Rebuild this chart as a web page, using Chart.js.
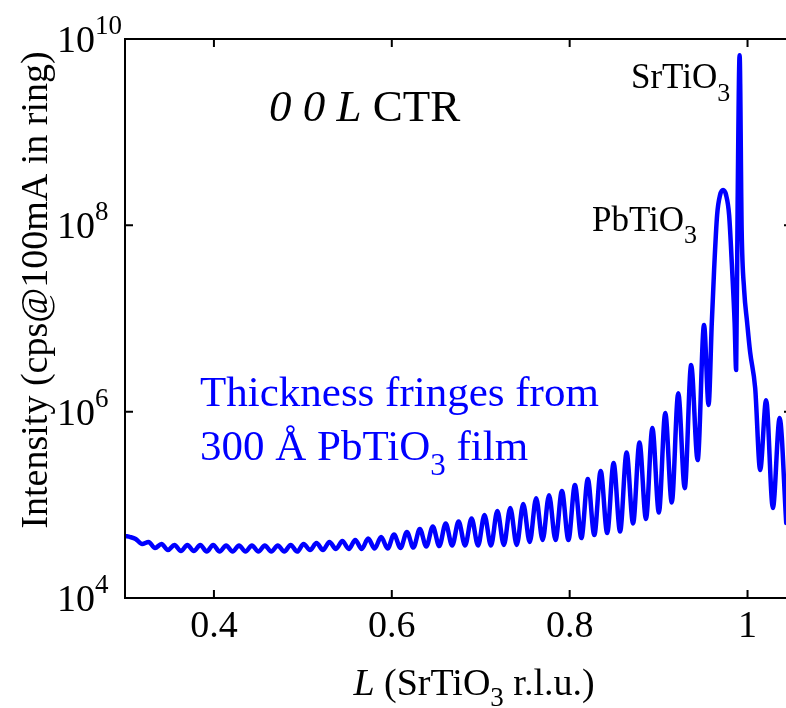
<!DOCTYPE html>
<html>
<head>
    <title>0 0 L CTR</title>
    <style>
        html, body {
            margin: 0;
            padding: 0;
            background-color: #ffffff;
            overflow: hidden;
        }

        #ctr-chart {
            display: block;
        }
    </style>
    <script src="https://cdn.jsdelivr.net/npm/chart.js"></script>
</head>
<body>
    <canvas id="ctr-chart" width="800" height="708"></canvas>

<script>
    // L in SrTiO3 reciprocal lattice units
    var lValues = [
        0.300, 0.306, 0.3120, 0.3193, 0.3265, 0.3338, 0.3410, 0.3483, 0.3556, 0.3629,
        0.3701, 0.3774, 0.3846, 0.3919, 0.3991, 0.4064, 0.4137, 0.4210, 0.4282, 0.4355,
        0.4427, 0.4500, 0.4572, 0.4645, 0.4718, 0.4791, 0.4863, 0.4936, 0.5008, 0.5081,
        0.5153, 0.5226, 0.5299, 0.5372, 0.5444, 0.5517, 0.5589, 0.5662, 0.5734, 0.5807,
        0.5880, 0.5953, 0.6025, 0.6098, 0.6170, 0.6243, 0.6315, 0.6388, 0.6461, 0.6534,
        0.6606, 0.6679, 0.6751, 0.6824, 0.6897, 0.6970, 0.7042, 0.7115, 0.7187, 0.7260,
        0.7332, 0.7405, 0.7478, 0.7551, 0.7623, 0.7696, 0.7768, 0.7841, 0.7913, 0.7986,
        0.8059, 0.8132, 0.8204, 0.8277, 0.8349, 0.8422, 0.8494, 0.8567, 0.8640, 0.8713,
        0.8785, 0.8858, 0.8930, 0.9003, 0.9075, 0.9148, 0.9221, 0.9294, 0.9366, 0.9439,
        0.9511, 0.9562, 0.9598, 0.9624, 0.9658, 0.9691, 0.9725, 0.9759, 0.9793, 0.9827,
        0.9855, 0.9872, 0.9889, 0.9911, 0.9934, 0.9962, 0.9995, 1.0029, 1.0086, 1.0142,
        1.0209, 1.0285, 1.0361, 1.0435
    ];

    // Intensity, cps @ 100 mA in ring
    var intensity = [
        4.63e4, 4.51e4, 4.30e4, 3.80e4, 3.99e4, 3.44e4, 3.80e4, 3.27e4, 3.71e4, 3.19e4,
        3.71e4, 3.19e4, 3.71e4, 3.15e4, 3.71e4, 3.15e4, 3.66e4, 3.15e4, 3.66e4, 3.15e4,
        3.66e4, 3.15e4, 3.66e4, 3.15e4, 3.66e4, 3.15e4, 3.71e4, 3.15e4, 3.80e4, 3.27e4,
        3.89e4, 3.27e4, 3.99e4, 3.36e4, 4.09e4, 3.36e4, 4.19e4, 3.36e4, 4.35e4, 3.40e4,
        4.51e4, 3.40e4, 4.80e4, 3.44e4, 5.11e4, 3.48e4, 5.50e4, 3.57e4, 5.85e4, 3.61e4,
        6.30e4, 3.66e4, 6.62e4, 3.66e4, 7.13e4, 3.66e4, 7.77e4, 3.66e4, 8.58e4, 3.71e4,
        9.24e4, 3.71e4, 1.02e5, 3.99e4, 1.18e5, 4.19e4, 1.27e5, 4.19e4, 1.41e5, 4.19e4,
        1.63e5, 4.40e4, 1.89e5, 4.74e4, 2.31e5, 4.98e4, 2.81e5, 5.17e4, 3.64e5, 6.30e4,
        4.66e5, 7.04e4, 6.67e5, 8.27e4, 9.66e5, 1.06e5, 1.58e6, 1.51e5, 3.16e6, 3.02e5,
        8.50e6, 1.18e6, 8.93e6, 3.31e7, 1.29e8, 2.11e8, 2.39e8, 2.11e8, 1.29e8, 3.31e7,
        8.93e6, 2.80e6, 1.86e8, 6.70e9, 8.88e7, 2.02e7, 9.15e6, 4.36e6, 1.79e6, 2.36e5,
        1.33e6, 9.24e4, 8.54e5, 6.38e4
    ];

    var xTickValues = [0.4, 0.6, 0.8, 1];
    var yTickExponents = [4, 6, 8, 10];

    var serif = '"Liberation Serif", "Times New Roman", serif';

    var points = [];
    for (var i = 0; i < lValues.length; i++) {
        points.push({ x: lValues[i], y: intensity[i] });
    }

    // draws text pieces one after another: [text, size, italic, dy]
    function drawRun(ctx, x, y, parts, color) {
        ctx.fillStyle = color;
        ctx.textBaseline = 'alphabetic';
        ctx.textAlign = 'left';
        for (var i = 0; i < parts.length; i++) {
            var p = parts[i];
            ctx.font = (p[2] ? 'italic ' : '') + p[1] + 'px ' + serif;
            ctx.fillText(p[0], x, y + (p[3] || 0));
            x += ctx.measureText(p[0]).width;
        }
    }

    function runWidth(ctx, parts) {
        var w = 0;
        for (var i = 0; i < parts.length; i++) {
            ctx.font = (parts[i][2] ? 'italic ' : '') + parts[i][1] + 'px ' + serif;
            w += ctx.measureText(parts[i][0]).width;
        }
        return w;
    }

    // box, inward ticks, y labels with exponents, titles and notes
    var decorations = {
        id: 'decorations',
        afterDraw: function(chart) {
            var ctx = chart.ctx;
            var area = chart.chartArea;
            var xs = chart.scales.x;
            var ys = chart.scales.y;
            var tick = 8;

            ctx.save();
            ctx.strokeStyle = '#000000';
            ctx.lineWidth = 2;
            ctx.strokeRect(area.left, area.top, area.right - area.left, area.bottom - area.top);

            ctx.beginPath();
            xTickValues.forEach(function(v) {
                var px = xs.getPixelForValue(v);
                ctx.moveTo(px, area.bottom);
                ctx.lineTo(px, area.bottom - tick);
                ctx.moveTo(px, area.top);
                ctx.lineTo(px, area.top + tick);
            });
            yTickExponents.forEach(function(e) {
                var py = ys.getPixelForValue(Math.pow(10, e));
                ctx.moveTo(area.left, py);
                ctx.lineTo(area.left + tick, py);
                ctx.moveTo(area.right, py);
                ctx.lineTo(area.right - tick, py);
            });
            ctx.stroke();

            yTickExponents.forEach(function(e) {
                var py = ys.getPixelForValue(Math.pow(10, e));
                drawRun(ctx, 57, py + 13, [['10', 38], [String(e), 27, false, -18]], '#000000');
            });

            // x axis title
            var xTitle = [['L', 38, true], [' (SrTiO', 38], ['3', 27, false, 11], [' r.l.u.)', 38]];
            drawRun(ctx, 474 - runWidth(ctx, xTitle) / 2, 695, xTitle, '#000000');

            // y axis title
            var yTitle = [['Intensity (cps@100mA in ring)', 38]];
            ctx.save();
            ctx.translate(47, 290);
            ctx.rotate(-Math.PI / 2);
            drawRun(ctx, -runWidth(ctx, yTitle) / 2, 0, yTitle, '#000000');
            ctx.restore();

            drawRun(ctx, 269, 121, [['0 0 L', 45, true], [' CTR', 45]], '#000000');
            drawRun(ctx, 631, 88, [['SrTiO', 35], ['3', 26, false, 13]], '#000000');
            drawRun(ctx, 592, 231, [['PbTiO', 35], ['3', 26, false, 12]], '#000000');
            drawRun(ctx, 200, 406, [['Thickness fringes from', 43]], '#0000ff');
            drawRun(ctx, 200, 460, [['300 \u00c5 PbTiO', 43], ['3', 31, false, 15], [' film', 43]], '#0000ff');
            ctx.restore();
        }
    };

    var ctx = document.getElementById('ctr-chart').getContext('2d');
    var ctrChart = new Chart(ctx, {
        type: 'line',
        data: {
            datasets: [{
                data: points,
                borderColor: '#0000ff',
                borderWidth: 4.5,
                pointRadius: 0,
                fill: false,
                cubicInterpolationMode: 'monotone',
                borderJoinStyle: 'round',
                borderCapStyle: 'round'
            }]
        },
        options: {
            responsive: false,
            animation: false,
            devicePixelRatio: 1,
            layout: {
                padding: { left: 0, right: 8, top: 39, bottom: 0 }
            },
            plugins: {
                legend: { display: false },
                tooltip: { enabled: false }
            },
            scales: {
                x: {
                    type: 'linear',
                    min: 0.3,
                    max: 1.05,
                    grid: { display: false, drawTicks: false },
                    border: { display: false },
                    afterBuildTicks: function(scale) {
                        scale.ticks = xTickValues.map(function(v) { return { value: v }; });
                    },
                    afterFit: function(scale) {
                        scale.height = 110;
                    },
                    ticks: {
                        autoSkip: false,
                        maxRotation: 0,
                        padding: 6,
                        color: '#000000',
                        font: { family: 'Liberation Serif', size: 38 },
                        callback: function(value) { return String(value); }
                    }
                },
                y: {
                    type: 'logarithmic',
                    min: 1e4,
                    max: 1e10,
                    grid: { display: false, drawTicks: false },
                    border: { display: false },
                    ticks: { display: false },
                    afterFit: function(scale) {
                        scale.width = 125;
                    }
                }
            }
        },
        plugins: [decorations]
    });
</script>

</body>
</html>
